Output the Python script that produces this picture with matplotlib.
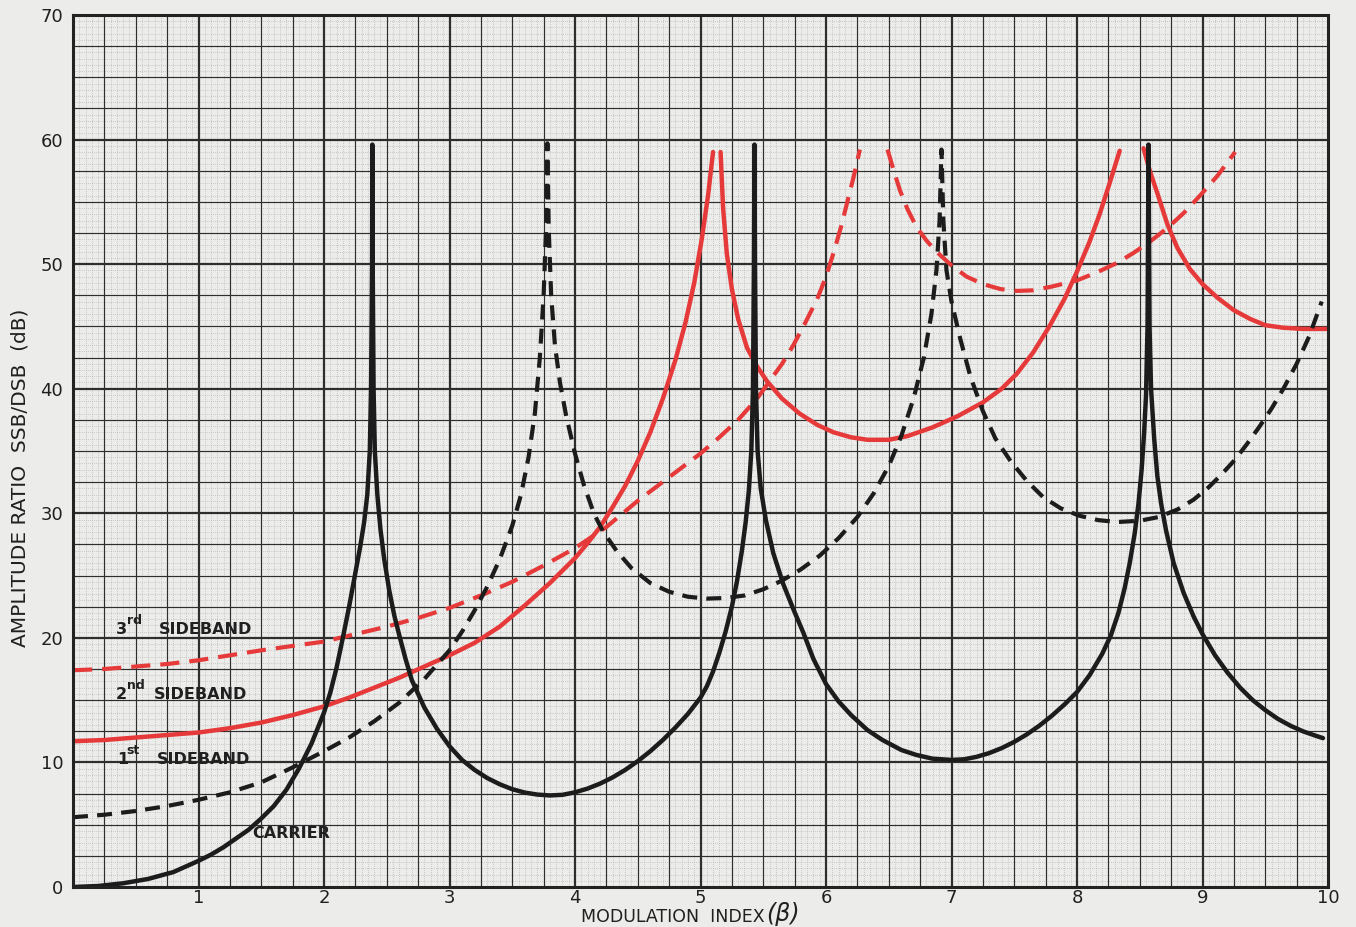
import numpy as np
import matplotlib
matplotlib.use("Agg")
import matplotlib.pyplot as plt

# ---------------- data ----------------
carrier_x = [0, 0.2, 0.4, 0.6, 0.8, 1.0, 1.1, 1.2, 1.3, 1.4, 1.5, 1.6, 1.7, 1.8, 1.9, 2.0,
             2.05, 2.1, 2.15, 2.2, 2.25, 2.29, 2.32, 2.345, 2.365, 2.375, 2.383, 2.385,
             2.388, 2.395, 2.405, 2.425, 2.45, 2.48, 2.52, 2.56, 2.6, 2.65, 2.7, 2.8, 2.9,
             3.0, 3.1, 3.2, 3.3, 3.4, 3.5, 3.6, 3.7, 3.8, 3.9, 4.0, 4.1, 4.2, 4.3, 4.4, 4.5,
             4.6, 4.7, 4.8, 4.9, 5.0, 5.05, 5.1, 5.15, 5.2, 5.25, 5.29, 5.33, 5.36, 5.385,
             5.405, 5.418, 5.426, 5.43, 5.434, 5.442, 5.455, 5.48, 5.52, 5.58, 5.66, 5.74,
             5.82, 5.9, 6.0, 6.1, 6.2, 6.33, 6.45, 6.6, 6.72, 6.85, 7.0, 7.1, 7.2, 7.3, 7.4,
             7.5, 7.6, 7.7, 7.8, 7.9, 8.0, 8.1, 8.2, 8.27, 8.33, 8.38, 8.42, 8.46, 8.49,
             8.515, 8.535, 8.55, 8.562, 8.57, 8.578, 8.59, 8.615, 8.64, 8.67, 8.71, 8.77,
             8.85, 8.93, 9.0, 9.1, 9.2, 9.3, 9.4, 9.5, 9.6, 9.7, 9.8, 9.9, 9.96]
carrier_y = [0, 0.08, 0.3, 0.65, 1.2, 2.1, 2.6, 3.2, 3.9, 4.6, 5.5, 6.5, 7.8, 9.5, 11.5, 14.0,
             15.6, 17.6, 20.0, 22.5, 25.2, 27.4, 29.3, 31.5, 35.0, 40.0, 50.0, 59.6,
             50.0, 40.0, 35.0, 31.5, 28.7, 26.3, 23.8, 21.8, 20.2, 18.3, 16.6, 14.4, 12.7,
             11.3, 10.2, 9.4, 8.75, 8.25, 7.85, 7.58, 7.42, 7.35, 7.4, 7.6, 7.9, 8.3, 8.8, 9.4, 10.1,
             10.9, 11.8, 12.8, 13.9, 15.2, 16.1, 17.3, 18.8, 20.5, 22.5, 24.5, 27.0, 29.3, 31.8,
             35.0, 40.0, 50.0, 59.6, 50.0, 40.0, 35.0, 32.0, 29.5, 26.8, 24.3, 22.3,
             20.4, 18.3, 16.3, 14.9, 13.8, 12.6, 11.8, 11.0, 10.6, 10.3, 10.2, 10.25, 10.45, 10.75, 11.15,
             11.65, 12.25, 12.95, 13.75, 14.65, 15.65, 17.0, 18.7, 20.2, 22.0, 24.0, 26.0, 28.4, 30.8,
             33.5, 36.5, 39.5, 45.0, 59.6, 45.0, 40.0, 36.0, 33.0, 30.8, 28.6, 26.0,
             23.6, 21.7, 20.3, 18.6, 17.2, 16.0, 15.0, 14.2, 13.5, 12.95, 12.5, 12.15, 11.95]

sb1_x = [0, 0.25, 0.5, 0.75, 1.0, 1.25, 1.5, 1.75, 2.0, 2.2, 2.4, 2.6, 2.8, 3.0, 3.1, 3.2,
         3.3, 3.4, 3.5, 3.57, 3.63, 3.68, 3.72, 3.75, 3.77, 3.78, 3.79, 3.81, 3.84, 3.88,
         3.93, 4.0, 4.07, 4.15, 4.22, 4.33, 4.45, 4.6, 4.75, 4.9, 5.05, 5.2, 5.35, 5.5,
         5.65, 5.8, 5.95, 6.1, 6.25, 6.38, 6.5, 6.6, 6.7, 6.78, 6.84, 6.88, 6.905, 6.92,
         6.935, 6.96, 7.0, 7.07, 7.15, 7.25, 7.35, 7.47, 7.6, 7.73, 7.87, 8.02, 8.17, 8.32,
         8.5, 8.65, 8.8, 8.93, 9.05, 9.15, 9.25, 9.35, 9.45, 9.55, 9.65, 9.75, 9.85, 9.95]
sb1_y = [5.6, 5.8, 6.1, 6.5, 7.0, 7.6, 8.4, 9.6, 10.9, 12.0, 13.3, 14.8, 16.7, 19.0, 20.5, 22.2,
         24.1, 26.3, 29.0, 31.5, 34.5, 38.0, 42.5, 47.5, 53.0, 59.7, 53.0, 47.5, 43.5, 40.5,
         37.8, 34.8, 32.3, 30.0, 28.6, 27.0, 25.6, 24.4, 23.7, 23.3, 23.15, 23.2, 23.4, 23.9,
         24.6, 25.5, 26.6, 28.0, 29.7, 31.6, 33.8, 36.2, 39.3, 42.5, 46.0, 49.5, 53.5, 59.2,
         53.5, 49.5, 47.0, 44.0, 41.0, 38.2, 36.0, 34.2, 32.6, 31.3, 30.4, 29.8, 29.45, 29.3,
         29.4, 29.7, 30.3, 31.1, 32.1, 33.1, 34.2, 35.5, 36.9, 38.4, 40.1, 42.0, 44.2, 47.0]

sb2_x = [0, 0.25, 0.5, 0.75, 1.0, 1.25, 1.5, 1.75, 2.0, 2.2, 2.4, 2.6, 2.8, 3.0, 3.2, 3.4,
         3.6, 3.8, 4.0, 4.1, 4.2, 4.3, 4.4, 4.5, 4.6, 4.7, 4.8, 4.88, 4.95, 5.01, 5.06, 5.10,
         np.nan, 5.16, 5.18, 5.21, 5.25, 5.3, 5.37, 5.45, 5.53, 5.65, 5.79, 5.93, 6.06, 6.2,
         6.33, 6.5, 6.65, 6.85, 7.05, 7.25, 7.4, 7.52, 7.65, 7.78, 7.9, 8.0, 8.1, 8.18, 8.26,
         8.34, np.nan, 8.53, 8.58, 8.64, 8.72, 8.8, 8.9, 9.0, 9.12, 9.25, 9.38, 9.5, 9.64,
         9.8, 10.0]
sb2_y = [11.7, 11.8, 12.0, 12.2, 12.4, 12.75, 13.2, 13.8, 14.5, 15.2, 16.0, 16.8, 17.7, 18.6,
         19.6, 20.9, 22.6, 24.4, 26.4, 27.6, 28.9, 30.5, 32.2, 34.2, 36.5, 39.2, 42.3, 45.3,
         48.5, 52.0, 55.5, 59.0, np.nan, 59.0, 54.5, 50.8, 48.0, 45.6, 43.3, 41.8, 40.6, 39.2,
         38.0, 37.1, 36.5, 36.1, 35.9, 35.9, 36.2, 36.9, 37.8, 38.9, 40.0, 41.2, 42.9, 45.0,
         47.2, 49.4, 51.8, 54.0, 56.5, 59.1, np.nan, 59.3, 57.5, 55.7, 53.2, 51.3, 49.6, 48.4,
         47.3, 46.3, 45.6, 45.1, 44.9, 44.8, 44.8]

sb3_x = [0, 0.25, 0.5, 0.75, 1.0, 1.25, 1.5, 1.75, 2.0, 2.25, 2.5, 2.75, 3.0, 3.25, 3.5,
         3.75, 4.0, 4.25, 4.5, 4.75, 5.0, 5.15, 5.3, 5.45, 5.55, 5.65, 5.74, 5.83, 5.93, 6.0,
         6.06, 6.12, 6.17, 6.22, 6.27, np.nan, 6.49, 6.54, 6.59, 6.65, 6.72, 6.8, 6.88, 7.0,
         7.12, 7.25, 7.39, 7.52, 7.65, 7.8, 8.0, 8.15, 8.32, 8.45, 8.58, 8.72, 8.85, 8.98,
         9.12, 9.26]
sb3_y = [17.4, 17.5, 17.7, 17.9, 18.2, 18.6, 19.0, 19.35, 19.7, 20.3, 20.9, 21.6, 22.4, 23.4,
         24.5, 25.8, 27.2, 28.9, 31.0, 32.9, 34.8, 36.1, 37.5, 39.2, 40.6, 42.0, 43.5, 45.2,
         47.2, 49.0, 50.9, 53.0, 55.0, 57.0, 59.2, np.nan, 59.2, 57.5, 55.9, 54.4, 53.0, 51.9,
         51.0, 49.9, 49.0, 48.4, 48.0, 47.85, 47.9, 48.2, 48.7, 49.3, 50.1, 50.9, 51.8, 52.9,
         54.1, 55.5, 57.1, 59.0]

x_ticks = [1, 2, 3, 4, 5, 6, 7, 8, 9, 10]
y_ticks = [0, 10, 20, 30, 40, 50, 60, 70]

# ---------------- style ----------------
paper = '#ececeb'
ink = '#202020'
black = '#1c1c1c'
red = '#e63a3a'
plt.rcParams['font.family'] = ['DejaVu Sans']

fig = plt.figure(figsize=(13.56, 9.27), dpi=100, facecolor=paper)
ax = fig.add_axes([73/1356, 1-887/927, (1328-73)/1356, (887-15)/927])
ax.set_facecolor(paper)
ax.set_xlim(0, 10)
ax.set_ylim(0, 70)

# graph-paper grid
for v in np.arange(0, 10.001, 0.05):
    ax.axvline(v, color='#a8a8a8', lw=0.5, ls=(0, (1, 2)), zorder=1)
for v in np.arange(0, 70.001, 0.5):
    ax.axhline(v, color='#a8a8a8', lw=0.5, ls=(0, (1, 2)), zorder=1)
for v in np.arange(0.25, 10, 0.25):
    ax.axvline(v, color='#2e2e2e', lw=1.6 if abs(v - round(v)) < 1e-6 else 0.85, zorder=2)
for v in np.arange(2.5, 70, 2.5):
    ax.axhline(v, color='#2e2e2e', lw=1.6 if abs(v/10 - round(v/10)) < 1e-6 else 0.85, zorder=2)

for s in ax.spines.values():
    s.set_linewidth(2.2)
    s.set_color('#222222')
    s.set_zorder(6)

# curves
ax.plot(carrier_x, carrier_y, color=black, lw=3.2, zorder=5, solid_capstyle='round',
        solid_joinstyle='round')
ax.plot(sb1_x, sb1_y, color=black, lw=3.0, zorder=5, dashes=(3.6, 2.2))
ax.plot(sb2_x, sb2_y, color=red, lw=3.2, zorder=4, solid_capstyle='round',
        solid_joinstyle='round')
ax.plot(sb3_x, sb3_y, color=red, lw=3.0, zorder=4, dashes=(4.6, 2.4))

# ticks
ax.set_xticks(x_ticks)
ax.set_yticks(y_ticks)
ax.set_xticklabels([str(t) for t in x_ticks])
ax.set_yticklabels([str(t) for t in y_ticks])
ax.tick_params(axis='both', length=0, labelsize=13, colors=ink)
ax.tick_params(axis='x', pad=1.5)
ax.tick_params(axis='y', pad=7)

# curve labels
def px(p):
    return (p - 73) / 125.5

def py(p):
    return (887 - p) / 12.457

kw = dict(color=ink, fontsize=11.5, fontweight='bold', va='center', ha='left', zorder=7)
sup = dict(color=ink, fontsize=9, fontweight='bold', va='center', ha='left', zorder=7)
ax.text(px(116), py(630), '3', **kw)
ax.text(px(127), py(621), 'rd', **sup)
ax.text(px(159), py(630), 'SIDEBAND', **kw)
ax.text(px(116), py(695), '2', **kw)
ax.text(px(127), py(686), 'nd', **sup)
ax.text(px(154), py(695), 'SIDEBAND', **kw)
ax.text(px(117), py(760), '1', **kw)
ax.text(px(126), py(751), 'st', **sup)
ax.text(px(157), py(760), 'SIDEBAND', **kw)
ax.text(px(252), py(834), 'CARRIER', **kw)

# axis titles
fig.text(765/1356, 1-917/927, 'MODULATION  INDEX', ha='right', va='center',
         fontsize=12.5, color=ink)
fig.text(766/1356, 1-914/927, '(β)', ha='left', va='center',
         fontsize=17, color=ink, style='italic')
fig.text(20/1356, 1-478/927, 'AMPLITUDE RATIO  SSB/DSB  (dB)', rotation=90,
         ha='center', va='center', fontsize=14.5, color=ink)

fig.savefig('out.png', dpi=100, facecolor=paper)
